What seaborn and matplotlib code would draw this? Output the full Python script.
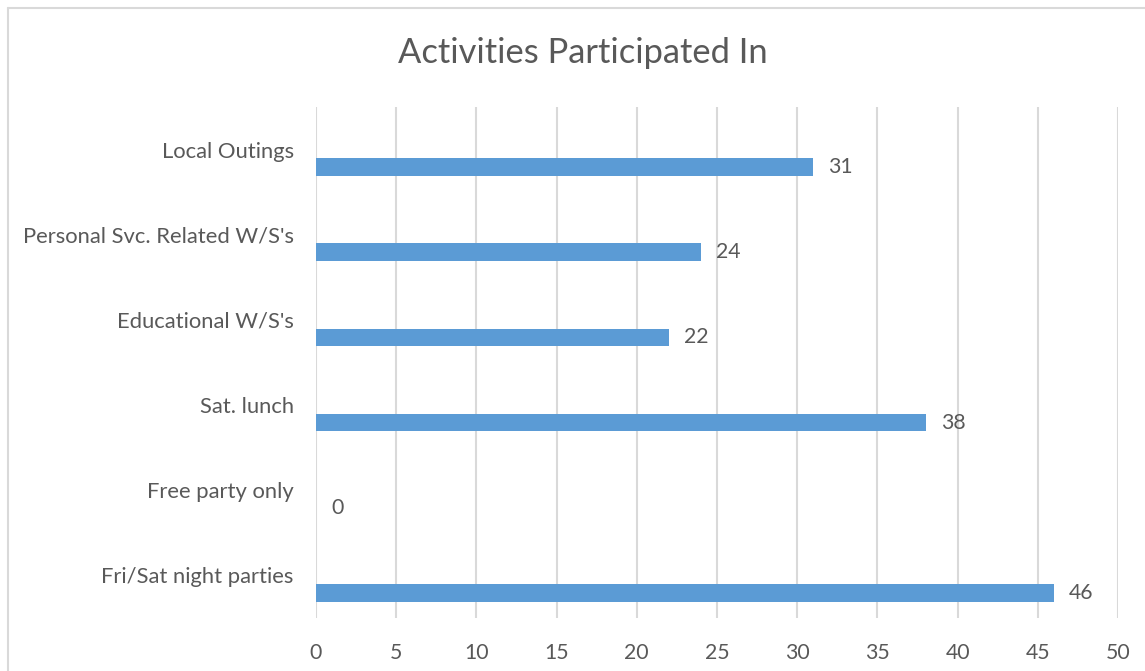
import numpy as np
import pandas as pd
import seaborn as sns
import matplotlib.pyplot as plt
from matplotlib.lines import Line2D

# data
categories = ["Local Outings", "Personal Svc. Related W/S's", "Educational W/S's",
              "Sat. lunch", "Free party only", "Fri/Sat night parties"]
counts = [31, 24, 22, 38, 0, 46]
# the original workbook has two empty series next to the counts
blank_a = [0, 0, 0, 0, 0, 0]
blank_b = [0, 0, 0, 0, 0, 0]
x_ticks = [0, 5, 10, 15, 20, 25, 30, 35, 40, 45, 50]

GREY = "#595959"
BLUE = "#5B9BD5"

sns.set_theme(style="white")
plt.rcParams['font.family'] = ['Lato', 'DejaVu Sans']

df = pd.DataFrame({
    "category": categories * 3,
    "value": blank_a + blank_b + counts,
    "series": ["a"] * 6 + ["b"] * 6 + ["count"] * 6,
})

fig = plt.figure(figsize=(11.45, 6.71), dpi=100)
ax = fig.add_axes([316 / 1145, 1 - 618 / 671, (1118 - 316) / 1145, (618 - 107) / 671])

sns.barplot(data=df, x="value", y="category", hue="series", order=categories,
            hue_order=["a", "b", "count"], palette=[BLUE, BLUE, BLUE], saturation=1,
            width=0.615, linewidth=0, legend=False, ax=ax, zorder=3)

ax.bar_label(ax.containers[2], labels=[str(v) for v in counts], padding=11,
             fontsize=15.3, color=GREY)

ax.set_xlim(0, 50)
ax.set_ylim(len(categories) - 0.5, -0.5)
ax.set_xticks(x_ticks)
ax.set_xlabel("")
ax.set_ylabel("")
ax.xaxis.grid(True, color="#d9d9d9", linewidth=1.5)
ax.set_axisbelow(True)
for s in ax.spines.values():
    s.set_visible(False)
ax.tick_params(axis="x", length=0, pad=18, labelsize=15.3, labelcolor=GREY)
ax.tick_params(axis="y", length=0, pad=16, labelsize=15.8, labelcolor=GREY)

fig.text(583 / 1145, 1 - 53 / 671, "Activities Participated In", ha="center",
         va="center", fontsize=24.8, color=GREY)

# chart area border (left and top edges visible in the reference)
fig.add_artist(Line2D([7.5 / 1145, 7.5 / 1145], [0, 1 - 8 / 671], transform=fig.transFigure,
                      color="#d9d9d9", linewidth=1.5))
fig.add_artist(Line2D([7.5 / 1145, 1], [1 - 8 / 671, 1 - 8 / 671], transform=fig.transFigure,
                      color="#d9d9d9", linewidth=1.5))

fig.savefig("out.png", dpi=100)
